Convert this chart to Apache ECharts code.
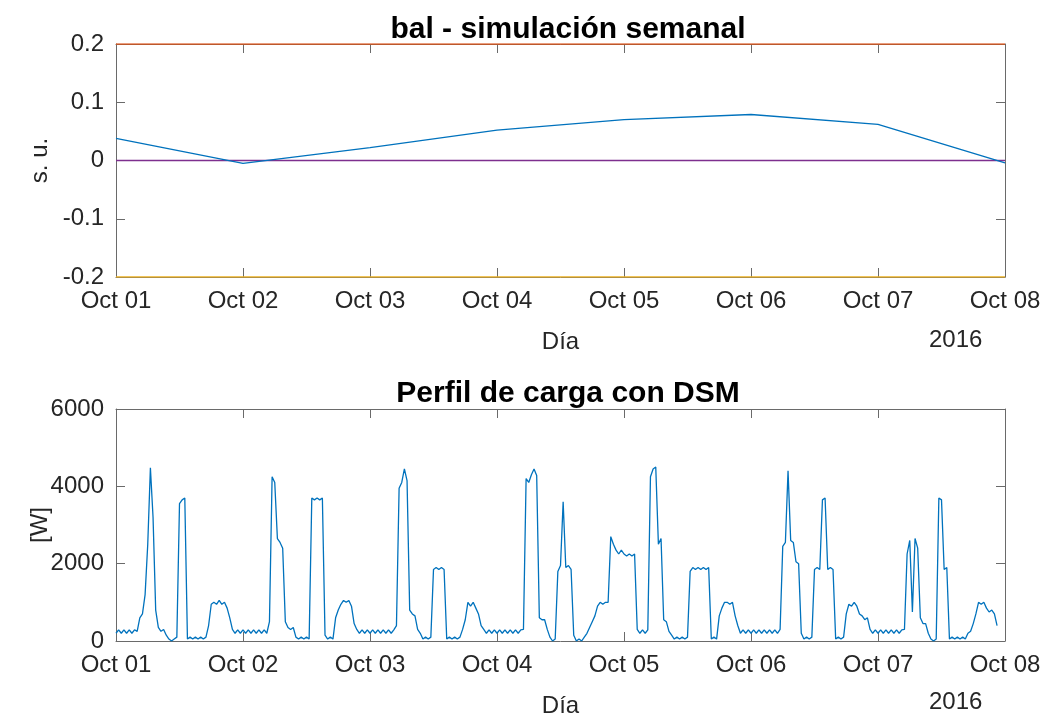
<!DOCTYPE html>
<html>
<head>
<meta charset="utf-8">
<script src="https://cdn.jsdelivr.net/npm/echarts@6/dist/echarts.min.js"></script>
<style>
  html, body { margin: 0; padding: 0; background: #fff; }
  #chart { width: 1047px; height: 719px; }
</style>
</head>
<body>
<div id="chart"></div>
<script>
const myChart = echarts.init(document.getElementById("chart"));

// etiquetas de los días (eje x)
const dayLabels = ["Oct 01", "Oct 02", "Oct 03", "Oct 04", "Oct 05", "Oct 06", "Oct 07", "Oct 08"];

// balance diario (s. u.), un valor por día
const balValues = [0.038, -0.005, 0.022, 0.052, 0.070, 0.079, 0.062, -0.004];
const balUpper = 0.2;
const balZero = 0;
const balLower = -0.2;

// perfil de carga con DSM [W], un valor cada media hora
const day1 = [200, 290, 200, 290, 200, 290, 200, 290, 250, 600, 700, 1200, 2500, 4480, 3200, 800,
  350, 250, 300, 150, 50, 0, 50, 100, 3550, 3650, 3700, 50, 100, 50, 100, 50,
  100, 50, 100, 400, 950, 1000, 950, 1050, 950, 1000, 850, 600, 300, 200, 290, 200];
const day2 = [290, 200, 290, 200, 290, 200, 290, 200, 290, 200, 500, 4250, 4100, 2650, 2550, 2400,
  500, 350, 300, 350, 100, 50, 100, 50, 100, 50, 3700, 3650, 3700, 3650, 3700, 150,
  50, 100, 50, 600, 800, 950, 1050, 1000, 1050, 900, 450, 300, 200, 290, 200, 290];
const day3 = [200, 290, 200, 290, 200, 290, 200, 290, 200, 290, 400, 3950, 4100, 4450, 4150, 800,
  700, 650, 300, 200, 50, 100, 50, 100, 1850, 1900, 1850, 1900, 1850, 50, 100, 50,
  100, 50, 100, 300, 550, 1000, 900, 1000, 850, 700, 400, 300, 200, 290, 200, 290];
const day4 = [200, 290, 200, 290, 200, 290, 200, 290, 200, 290, 300, 4200, 4100, 4300, 4450, 4280,
  600, 550, 550, 300, 100, 0, 50, 1800, 1950, 3600, 1900, 1950, 1850, 150, 0, 50,
  0, 100, 200, 350, 500, 650, 900, 1000, 950, 1000, 1000, 2700, 2500, 2350, 2250, 2350];
const day5 = [2250, 2200, 2250, 2200, 2250, 300, 200, 290, 200, 290, 4250, 4450, 4500, 2500, 2650, 550,
  500, 250, 150, 50, 100, 50, 100, 50, 100, 1800, 1900, 1850, 1900, 1850, 1900, 1850,
  1900, 50, 100, 50, 650, 850, 1000, 1000, 950, 1000, 650, 400, 200, 290, 200, 290];
const day6 = [200, 290, 200, 290, 200, 290, 200, 290, 200, 290, 200, 300, 2450, 2550, 4400, 2600,
  2550, 2050, 2000, 200, 50, 100, 50, 100, 1850, 1900, 1850, 3650, 3700, 1850, 1900, 1850,
  50, 100, 50, 100, 700, 950, 900, 1000, 900, 700, 650, 550, 600, 300, 200, 290];
const day7 = [200, 290, 200, 290, 200, 290, 200, 290, 200, 290, 300, 2250, 2600, 750, 2650, 2400,
  600, 450, 450, 200, 50, 0, 50, 3700, 3650, 1850, 1900, 50, 100, 50, 100, 50,
  100, 50, 200, 250, 450, 700, 1000, 950, 1000, 850, 750, 800, 700, 400];
const loadDays = [day1, day2, day3, day4, day5, day6, day7];

const balData = balValues.map((v, i) => [i * 24, v]);
const loadData = loadDays.flatMap((d, k) => d.map((v, i) => [k * 24 + i * 0.5, v]));

const textColor = "#262626";
const axisColor = "#6a6a6a";
const font = "Liberation Sans, Arial, Helvetica, sans-serif";

function xAxes(grid, withLabels) {
  const base = {
    type: "value", gridIndex: grid, min: 0, max: 168, interval: 24,
    axisLine: { show: true, onZero: false, lineStyle: { color: axisColor, width: 1 } },
    axisTick: { show: true, inside: true, length: 9, lineStyle: { color: axisColor } },
    splitLine: { show: false }
  };
  return [
    Object.assign({}, base, {
      position: "bottom",
      axisLabel: {
        show: withLabels, color: textColor, fontSize: 24, fontFamily: font, margin: 12,
        showMinLabel: true, showMaxLabel: true,
        formatter: v => dayLabels[Math.round(v / 24)]
      },
      name: "Día", nameLocation: "middle", nameGap: 53, nameMoveOverlap: false,
      nameTextStyle: { color: textColor, fontSize: 24, fontFamily: font }
    }),
    Object.assign({}, base, { position: "top", axisLabel: { show: false } })
  ];
}

function yAxes(grid, min, max, interval, name, fmt) {
  const base = {
    type: "value", gridIndex: grid, min: min, max: max, interval: interval,
    axisLine: { show: true, onZero: false, lineStyle: { color: axisColor, width: 1 } },
    axisTick: { show: true, inside: true, length: 9, lineStyle: { color: axisColor } },
    splitLine: { show: false }
  };
  return [
    Object.assign({}, base, {
      position: "left",
      axisLabel: {
        color: textColor, fontSize: 24, fontFamily: font, margin: 12,
        showMinLabel: true, showMaxLabel: true, formatter: fmt
      },
      name: name, nameLocation: "middle", nameRotate: 90, nameGap: 64, nameMoveOverlap: false,
      nameTextStyle: { color: textColor, fontSize: 24, fontFamily: font }
    }),
    Object.assign({}, base, { position: "right", axisLabel: { show: false } })
  ];
}

const lineSeries = (name, data, color, xi, yi, z) => ({
  name: name, type: "line", data: data, xAxisIndex: xi, yAxisIndex: yi,
  showSymbol: false, symbol: "none", z: z || 3, animation: false,
  lineStyle: { color: color, width: 1.3 }, itemStyle: { color: color }
});

let option = {
  animation: false,
  title: [
    {
      text: "bal - simulación semanal", left: 563, top: 10, textAlign: "center",
      textStyle: { color: "#000", fontSize: 30, fontWeight: "bold", fontFamily: font }
    },
    {
      text: "Perfil de carga con DSM", left: 563, top: 374, textAlign: "center",
      textStyle: { color: "#000", fontSize: 30, fontWeight: "bold", fontFamily: font }
    }
  ],
  grid: [
    { left: 116, top: 44, width: 889, height: 233 },
    { left: 116, top: 409, width: 889, height: 234 }
  ],
  xAxis: [...xAxes(0, true), ...xAxes(1, true)],
  yAxis: [
    ...yAxes(0, -0.2, 0.2, 0.1, "s. u.", v => String(+v.toFixed(1))),
    ...yAxes(1, 0, 6000, 2000, "[W]", v => String(Math.round(v)))
  ],
  graphic: [
    { type: "text", left: 929, top: 328, style: { text: "2016", fill: textColor, font: "24px " + font } },
    { type: "text", left: 929, top: 690, style: { text: "2016", fill: textColor, font: "24px " + font } }
  ],
  series: [
    lineSeries("bal", balData, "#0072BD", 0, 0, 4),
    lineSeries("max", [[0, balUpper], [168, balUpper]], "#D95319", 0, 0, 5),
    lineSeries("cero", [[0, balZero], [168, balZero]], "#7E2F8E", 0, 0, 3),
    lineSeries("min", [[0, balLower], [168, balLower]], "#EDB120", 0, 0, 5),
    lineSeries("carga", loadData, "#0072BD", 2, 2, 3)
  ]
};

myChart.setOption(option);
</script>
</body>
</html>
